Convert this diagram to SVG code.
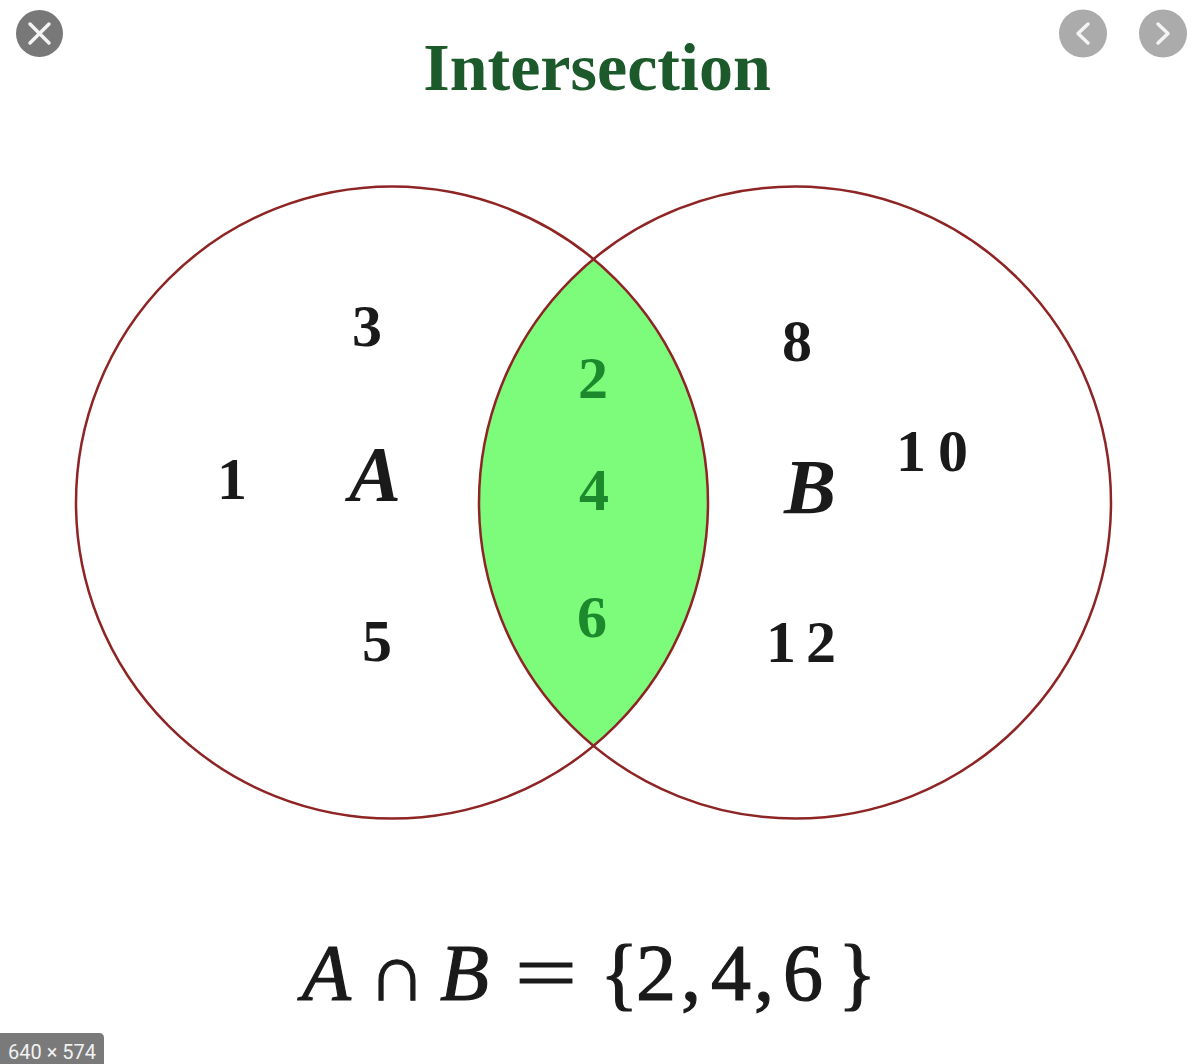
<svg xmlns="http://www.w3.org/2000/svg" width="1194" height="1064" viewBox="0 0 1194 1064">
<style>
.num{font-family:"Liberation Serif","Times New Roman",serif;font-weight:bold;font-size:60px;fill:#1a1a1a;text-anchor:middle}
.gnum{font-family:"Liberation Serif","Times New Roman",serif;font-weight:bold;font-size:60px;fill:#1c8a2c;text-anchor:middle}
.lbl{font-family:"Liberation Serif","Times New Roman",serif;font-style:italic;font-weight:bold;font-size:78px;fill:#1a1a1a;text-anchor:middle}
.fm{font-family:"Liberation Serif","Times New Roman",serif;font-size:80px;fill:#1a1a1a;stroke:#1a1a1a;stroke-width:1.2}
.it{font-style:italic}
.circ{fill:none;stroke:#8e2424;stroke-width:2.5}
.btn{stroke:#f4f4f4;stroke-width:3.5;fill:none;stroke-linecap:round;stroke-linejoin:round}
</style>
<rect width="1194" height="1064" fill="#ffffff"/>
<defs>
<clipPath id="clipL"><circle cx="392" cy="502.5" r="316"/></clipPath>
</defs>

<g id="title">
<text x="597" y="90" font-family="Liberation Serif,Times New Roman,serif" font-weight="bold" font-size="68" fill="#1d5a2b" text-anchor="middle">Intersection</text>
</g>

<g id="lens">
<circle cx="795" cy="502.5" r="316" fill="#7dfb7b" clip-path="url(#clipL)"/>
</g>

<g id="setA">
<circle class="circ" cx="392" cy="502.5" r="316"/>
<text class="num" x="367" y="346">3</text>
<text class="num" x="232" y="499">1</text>
<text class="lbl" x="375" y="500">A</text>
<text class="num" x="377" y="661">5</text>
</g>

<g id="setB">
<circle class="circ" cx="795" cy="502.5" r="316"/>
<text class="num" x="797" y="361">8</text>
<text class="num" x="938" y="471" letter-spacing="12">10</text>
<text class="lbl" x="810" y="513">B</text>
<text class="num" x="806" y="662" letter-spacing="10">12</text>
</g>

<g id="intersection">
<text class="gnum" x="593" y="398">2</text>
<text class="gnum" x="594" y="510">4</text>
<text class="gnum" x="592" y="637">6</text>
</g>

<g id="formula">
<text class="fm it" x="302" y="1000">A</text>
<text class="fm" x="368" y="1000">∩</text>
<text class="fm it" x="440" y="1000">B</text>
<text class="fm" x="515" y="1000" textLength="62" lengthAdjust="spacingAndGlyphs">=</text>
<text class="fm" x="600" y="1000">{</text>
<text class="fm" x="636" y="1000">2</text>
<text class="fm" x="681" y="1000">,</text>
<text class="fm" x="711" y="1000">4</text>
<text class="fm" x="754" y="1000">,</text>
<text class="fm" x="783" y="1000">6</text>
<text class="fm" x="838" y="1000">}</text>
</g>

<g id="close-button">
<circle cx="39.5" cy="33.5" r="23.5" fill="#787878"/>
<path class="btn" d="M30 24 L49 43 M49 24 L30 43" stroke-width="3"/>
</g>

<g id="prev-button">
<circle cx="1083" cy="33.5" r="24" fill="#ababab"/>
<path class="btn" d="M1088 24 L1078 33.5 L1088 43"/>
</g>

<g id="next-button">
<circle cx="1163" cy="33.5" r="24" fill="#ababab"/>
<path class="btn" d="M1158 24 L1168 33.5 L1158 43"/>
</g>

<g id="size-badge">
<path d="M0 1033 H99 Q104 1033 104 1038 V1064 H0 Z" fill="#7a7a7a"/>
<text x="8" y="1059" font-family="Roboto,Liberation Sans,sans-serif" font-size="20" fill="#f2f2f2" textLength="88" lengthAdjust="spacingAndGlyphs">640 × 574</text>
</g>
</svg>
